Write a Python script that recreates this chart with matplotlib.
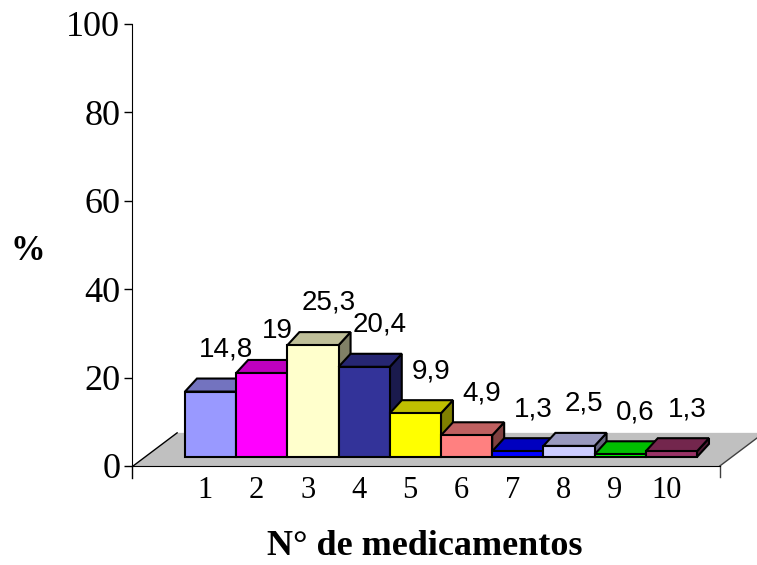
import matplotlib
matplotlib.use('Agg')
import matplotlib.pyplot as plt
from matplotlib.patches import Polygon
from matplotlib.colors import to_rgb

categories = ['1', '2', '3', '4', '5', '6', '7', '8', '9', '10']
values = [14.8, 19, 25.3, 20.4, 9.9, 4.9, 1.3, 2.5, 0.6, 1.3]
bar_colors = ['#9999FF', '#FF00FF', '#FFFFCC', '#333399', '#FFFF00',
              '#FF8080', '#0000FF', '#CCCCFF', '#00FF00', '#993366']
y_ticks = [0, 20, 40, 60, 80, 100]

# fake 3d geometry in data units (x: one category, y: percent)
bar_dx, bar_dy = 0.234, 2.95      # depth of a bar
front_dx, front_dy = 0.254, 2.04  # bar front face behind floor front edge
floor_dx, floor_dy = 0.86, 7.5    # depth of floor
floor_left, floor_right = -0.26, 11.2
x_left, x_right = -0.281, 11.926


def shade(c, f):
    r, g, b = to_rgb(c)
    return (r * f, g * f, b * f)


fig = plt.figure(figsize=(7.57, 5.65), dpi=100)
ax = fig.add_axes([132 / 757, 99 / 565, 625 / 757, 442 / 565])
ax.set_xlim(x_left, x_right)
ax.set_ylim(0, 100)

# floor
floor = Polygon([(floor_left, 0), (floor_right, 0),
                 (floor_right + floor_dx, floor_dy), (floor_left + floor_dx, floor_dy)],
                closed=True, facecolor='#C0C0C0', edgecolor='none', clip_on=False, zorder=1)
ax.add_patch(floor)
ax.plot([floor_left, floor_left + floor_dx], [0, floor_dy], color='black', lw=1, zorder=2, clip_on=False)
ax.plot([floor_right, floor_right + floor_dx], [0, floor_dy], color='#404040', lw=1, zorder=2, clip_on=False)

# bars, left to right so later ones hide side faces
for i, (v, c) in enumerate(zip(values, bar_colors)):
    x0 = i + 1 - 0.5 + front_dx
    x1 = i + 1 + 0.5 + front_dx
    y0 = front_dy
    y1 = front_dy + v
    front = Polygon([(x0, y0), (x1, y0), (x1, y1), (x0, y1)], closed=True,
                    facecolor=c, edgecolor='black', lw=1.5, zorder=3 + i, joinstyle='miter')
    top = Polygon([(x0, y1), (x1, y1), (x1 + bar_dx, y1 + bar_dy), (x0 + bar_dx, y1 + bar_dy)],
                  closed=True, facecolor=shade(c, 0.75), edgecolor='black', lw=1.5, zorder=3 + i)
    side = Polygon([(x1, y0), (x1 + bar_dx, y0 + bar_dy), (x1 + bar_dx, y1 + bar_dy), (x1, y1)],
                   closed=True, facecolor=shade(c, 0.5), edgecolor='black', lw=1.5, zorder=3 + i)
    ax.add_patch(side)
    ax.add_patch(top)
    ax.add_patch(front)
    label = f'{v:g}'.replace('.', ',')
    ax.annotate(label, xy=(i + 1 + front_dx + 0.3, y1), xytext=(0, 21),
                textcoords='offset points', ha='center', va='bottom',
                fontsize=20, family='Liberation Sans', zorder=20)

# axes styling
for s in ['top', 'right']:
    ax.spines[s].set_visible(False)
ax.spines['bottom'].set_bounds(x_left, floor_right)
ax.spines['bottom'].set_zorder(2)
ax.spines['left'].set_color('black')
ax.plot([x_left, x_left], [0, -2.7], color='black', lw=1, clip_on=False)
ax.plot([floor_right, floor_right], [0, -2.5], color='#404040', lw=1, clip_on=False)

ax.set_yticks(y_ticks)
ax.set_yticklabels([str(t) for t in y_ticks], family='Liberation Serif', fontsize=26)
ax.tick_params(axis='y', direction='out', length=6, width=1, pad=2.5)
ax.set_xticks([i + 1 + 0.15 for i in range(len(categories))])
ax.set_xticklabels(categories, family='Liberation Serif', fontsize=22)
ax.tick_params(axis='x', length=0, pad=7)

fig.text(28 / 757, 1 - 252 / 565, '%', family='Liberation Serif', fontweight='bold',
         fontsize=25, ha='center', va='center')
fig.text(425 / 757, 1 - 555 / 565, 'N° de medicamentos', family='Liberation Serif',
         fontweight='bold', fontsize=26, ha='center', va='baseline')

fig.savefig('out.png', dpi=100)
